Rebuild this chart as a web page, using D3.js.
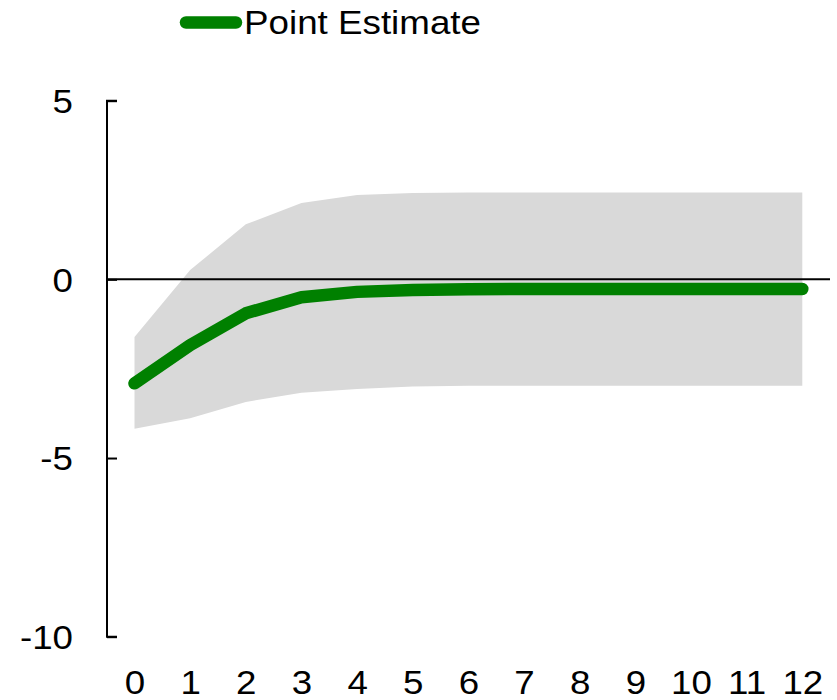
<!DOCTYPE html>
<html><head><meta charset="utf-8">
<script src="https://cdn.jsdelivr.net/npm/d3@7"></script>
<style>body{margin:0;background:#fff}</style>
</head><body>
<svg id="chart" width="837" height="700"></svg>
<script>
const horizons = [0,1,2,3,4,5,6,7,8,9,10,11,12];
const pointEstimate = [-2.91,-1.84,-0.95,-0.50,-0.35,-0.30,-0.28,-0.27,-0.27,-0.27,-0.27,-0.27,-0.27];
const upperBound = [-1.61,0.26,1.54,2.14,2.36,2.42,2.43,2.43,2.43,2.43,2.43,2.43,2.43];
const lowerBound = [-4.18,-3.89,-3.43,-3.17,-3.07,-3.00,-2.98,-2.98,-2.98,-2.98,-2.98,-2.98,-2.98];
const yTicks = [5,0,-5,-10];
const legendLabel = "Point Estimate";

const svg = d3.select("#chart");
const font = "Arial, 'Liberation Sans', sans-serif";
const fs = 32.5;
const stretch = 1.13;
const x = d3.scaleLinear().domain([0,12]).range([134.5,802.3]);
const y = d3.scaleLinear().domain([-10,5]).range([636.7,100.7]);

const data = horizons.map((h,i)=>({h, p:pointEstimate[i], u:upperBound[i], l:lowerBound[i]}));

svg.append("path").datum(data)
  .attr("fill","#d9d9d9")
  .attr("d", d3.area().x(d=>x(d.h)).y0(d=>y(d.l)).y1(d=>y(d.u)));

// zero line
svg.append("line").attr("x1",107).attr("x2",830).attr("y1",y(0)).attr("y2",y(0))
  .attr("stroke","#000").attr("stroke-width",2);

// y axis
const yAxis = d3.axisRight(y).tickValues(yTicks).tickSize(10).tickFormat(d => String(d));
const ya = svg.append("g").attr("transform","translate(107,0)").call(yAxis);
ya.select(".domain").attr("stroke","#000").attr("stroke-width",2).attr("d","M10,100.7H0V636.7H10");
ya.selectAll(".tick line").attr("stroke","#000").attr("stroke-width",2);
ya.selectAll(".tick text").attr("x",0).attr("text-anchor","end").attr("dy","0.36em")
  .attr("transform",`translate(-34,0) scale(${stretch},1)`)
  .attr("font-family",font).attr("font-size",fs).attr("fill","#000");

// x axis labels
const xAxis = d3.axisBottom(x).tickValues(horizons).tickSize(0).tickPadding(0).tickFormat(d => String(d));
const xa = svg.append("g").attr("transform","translate(0,682.3)").call(xAxis);
xa.select(".domain").remove();
xa.selectAll(".tick text").attr("dy","0.36em").attr("y",0)
  .attr("transform",`scale(${stretch},1)`)
  .attr("font-family",font).attr("font-size",fs).attr("fill","#000");

// point estimate line
svg.append("path").datum(data)
  .attr("fill","none").attr("stroke","#008000").attr("stroke-width",12.5)
  .attr("stroke-linecap","round").attr("stroke-linejoin","round")
  .attr("d", d3.line().x(d=>x(d.h)).y(d=>y(d.p)));

// legend
const lg = svg.append("g");
lg.append("line").attr("x1",186).attr("x2",236).attr("y1",22.5).attr("y2",22.5)
  .attr("stroke","#008000").attr("stroke-width",12.5).attr("stroke-linecap","round");
lg.append("text").attr("x",244).attr("y",34.3).text(legendLabel)
  .attr("textLength",237).attr("lengthAdjust","spacingAndGlyphs")
  .attr("font-family",font).attr("font-size",34).attr("fill","#000");
</script>
</body></html>
